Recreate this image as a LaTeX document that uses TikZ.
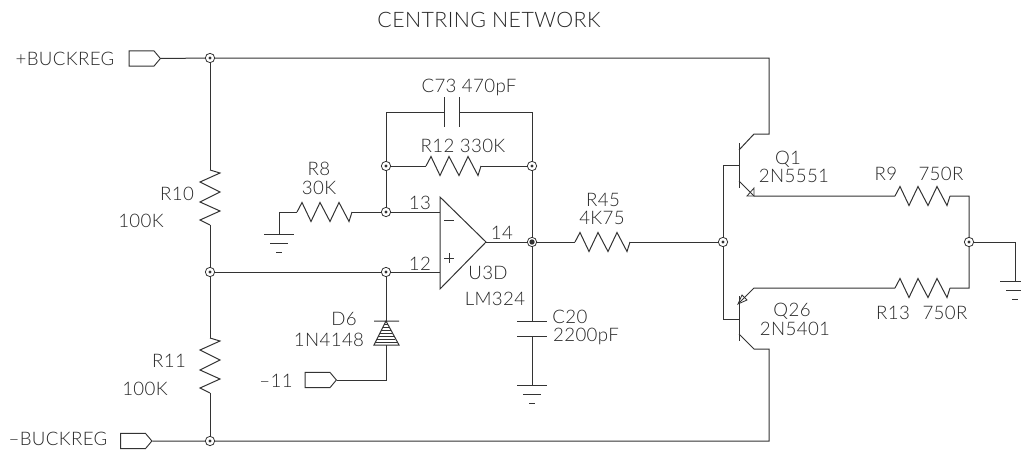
\documentclass[tikz,border=0pt]{standalone}
\usepackage{fontspec}
\setmainfont{Lato}[UprightFont=* Light,LetterSpace=2]
\usetikzlibrary{shapes.symbols}
\tikzset{
	wire/.style={draw=black!80,line width=0.75pt,line join=miter},
	junction/.style={circle,draw=black!80,line width=0.6pt,fill=white,inner sep=0pt,minimum size=7pt,
		path picture={\fill[black!80] (path picture bounding box.center) circle (1.2pt);}},
	pad/.style={signal,signal to=east,signal pointer angle=100,draw=black!80,line width=0.7pt,inner sep=0pt,
		minimum width=23.5pt,minimum height=11.5pt},
	lbl/.style={text=black!85,inner sep=0pt,font=\fontsize{14}{14}\selectfont},
	resh/.pic={\draw[wire] (0,0) -- (5,-9.5) -- (14,9.5) -- (23,-9.5) -- (33,9.5) -- (42,-9.5) -- (52,9.5) -- (55,0);},
	resv/.pic={\draw[wire] (0,0) -- (10,3) -- (-10,12) -- (10,22) -- (-10,32) -- (10,41) -- (-10,50) -- (0,55);},
	gnd/.pic={\draw[wire] (-15,0) -- (15,0) (-9,9) -- (9,9) (-3,18) -- (3,18);}
}
\begin{document}
\begin{tikzpicture}[x=0.75pt,y=-0.75pt]
\useasboundingbox (0,0) rectangle (1021,450);
% title
\node[lbl,font=\fontsize{16}{16}\selectfont] (title) at (489,20) {CENTRING NETWORK};
% ports
\node[pad] (padp) at (141.5,58.5) {};
\node[pad] (padm) at (133,441) {};
\node[pad] (pad11) at (317.5,380) {};
\node[lbl] (lpadp) at (65,59) {+BUCKREG};
\node[lbl] (lpadm) at (58,439) {--BUCKREG};
\node[lbl] (lpad11) at (276,381) {--11};
% junctions
\node[junction] (jtop) at (210,58) {};
\node[junction] (jbot) at (210,441) {};
\node[junction] (jdiv) at (210,272) {};
\node[junction] (jplus) at (386,272) {};
\node[junction] (jminus) at (386,212) {};
\node[junction] (jfbl) at (386,166) {};
\node[junction] (jfbr) at (532,166) {};
\node[junction,path picture={\fill[black!80] (path picture bounding box.center) circle (2pt);}] (jout) at (532,242) {};
\node[junction] (jbase) at (723,242) {};
\node[junction] (jemit) at (969,242) {};
% resistors
\coordinate (r10a) at (210,170); \coordinate (r10b) at (210,225);
\coordinate (r11a) at (210,338); \coordinate (r11b) at (210,393);
\coordinate (r8a) at (297,212); \coordinate (r8b) at (352,212);
\coordinate (r12a) at (426,166); \coordinate (r12b) at (481,166);
\coordinate (r45a) at (575,242); \coordinate (r45b) at (630,242);
\coordinate (r9a) at (895,196); \coordinate (r9b) at (950,196);
\coordinate (r13a) at (895,288); \coordinate (r13b) at (950,288);
\foreach \r in {r8a,r12a,r45a,r9a,r13a} \pic at (\r) {resh};
\foreach \r in {r10a,r11a} \pic at (\r) {resv};
% divider and rails
\draw[wire] (padp.east) -- (jtop) -- (769,58) -- (769,134) -- (754,134) -- (739,150);
\draw[wire] (padm.east) -- (jbot) -- (769,441) -- (769,349) -- (754,349) -- (739,334);
\draw[wire] (jtop) -- (r10a) (r10b) -- (jdiv) -- (r11a) (r11b) -- (jbot);
% op amp
\coordinate (ua) at (440,197);
\coordinate (ub) at (440,289);
\coordinate (uo) at (486,242);
\draw[wire] (ua) -- (uo) -- (ub) -- cycle;
\draw[wire,line width=0.6pt] (444,220) -- (454,220) (444,258) -- (454,258) (449,253) -- (449,263);
\draw[wire] (jdiv) -- (jplus) -- (440,272);
\draw[wire] (jminus) -- (440,212);
\draw[wire] (uo) -- (jout);
% input resistor and its ground
\coordinate (g1) at (279,234);
\pic at (g1) {gnd};
\draw[wire] (g1) -- (279,212) -- (r8a) (r8b) -- (jminus);
% feedback
\coordinate (c73a) at (444,112);
\coordinate (c73b) at (459,112);
\draw[wire] (444,97) -- (444,127) (459,97) -- (459,127);
\draw[wire] (jminus) -- (jfbl) -- (386,112) -- (c73a);
\draw[wire] (c73b) -- (532,112) -- (jfbr) -- (jout);
\draw[wire] (jfbl) -- (r12a) (r12b) -- (jfbr);
% C20
\coordinate (c20a) at (532,321);
\coordinate (c20b) at (532,336);
\coordinate (g2) at (532,385);
\draw[wire] (517,321) -- (547,321) (517,336) -- (547,336);
\pic at (g2) {gnd};
\draw[wire] (jout) -- (c20a) (c20b) -- (g2);
% diode
\coordinate (d6a) at (386,321);
\coordinate (d6b) at (386,345);
\draw[wire] (374,321) -- (399,321) (d6a) -- (374,345) -- (399,345) -- cycle;
\foreach \yy in {324,327,...,342} {
	\pgfmathsetmacro{\hw}{(\yy-321)*12.5/24}
	\draw[wire,line width=0.6pt] (386-\hw,\yy) -- (386+\hw,\yy);
}
\draw[wire] (jplus) -- (d6a) (d6b) -- (386,380) -- (pad11.east);
% output to transistors
\draw[wire] (jout) -- (r45a) (r45b) -- (jbase);
\draw[wire] (723,165) -- (jbase) -- (723,319);
\draw[wire] (723,165) -- (739,165) (723,319) -- (739,319);
% Q1
\draw[wire] (739,143) -- (739,188);
\draw[wire] (739,181) -- (754,196) -- (r9a) (r9b) -- (969,196) -- (jemit);
\draw[wire,line width=0.6pt] (754,188) -- (754,196) -- (747,196) -- cycle;
% Q26
\draw[wire] (739,296) -- (739,341);
\draw[wire] (739,303) -- (754,288) -- (r13a) (r13b) -- (969,288) -- (jemit);
\draw[wire,line width=0.6pt] (738,304) -- (747,300) -- (742,295) -- cycle;
% ground on the right
\coordinate (g3) at (1015,281);
\pic at (g3) {gnd};
\draw[wire] (jemit) -- (1015,242) -- (g3);
% labels
\node[lbl] (lr10) at (177,194) {R10};
\node[lbl] (lr10v) at (141,221) {100K};
\node[lbl] (lr11) at (169,361) {R11};
\node[lbl] (lr11v) at (145,389) {100K};
\node[lbl] (lr8) at (319,169) {R8};
\node[lbl] (lr8v) at (319,188) {30K};
\node[lbl] (lc73) at (469,87) {C73 470pF};
\node[lbl] (lr12) at (463,146) {R12 330K};
\node[lbl] (l13) at (420,203) {13};
\node[lbl] (l12) at (420,264) {12};
\node[lbl] (l14) at (502,233) {14};
\node[lbl] (lu3d) at (488,273) {U3D};
\node[lbl] (llm) at (495,299) {LM324};
\node[lbl] (lr45) at (603,200) {R45};
\node[lbl] (lr45v) at (602,218) {4K75};
\node[lbl] (lc20) at (570,317) {C20};
\node[lbl] (lc20v) at (586,336) {2200pF};
\node[lbl] (ld6) at (344,319) {D6};
\node[lbl] (ld6v) at (329,340) {1N4148};
\node[lbl] (lq1) at (788,159) {Q1};
\node[lbl] (lq1v) at (794,176) {2N5551};
\node[lbl] (lr9) at (886,174) {R9};
\node[lbl] (lr9v) at (941,174) {750R};
\node[lbl] (lq26) at (792,311) {Q26};
\node[lbl] (lq26v) at (795,329) {2N5401};
\node[lbl] (lr13) at (893,313) {R13};
\node[lbl] (lr13v) at (945,313) {750R};
\end{tikzpicture}
\end{document}
